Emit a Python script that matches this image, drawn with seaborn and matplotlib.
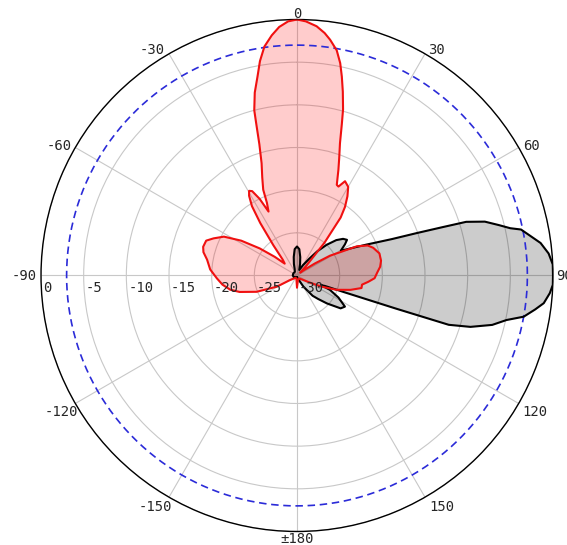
import numpy as np
import pandas as pd
import matplotlib
matplotlib.use('Agg')
import matplotlib.pyplot as plt
import seaborn as sns

# red pattern: angle [deg, clockwise from top], level [dB]
red_deg = [-180, -170, -150, -135, -123, -119, -112, -106, -102, -97, -92, -86, -80, -76,
           -73, -69, -66, -62, -58, -54, -50, -46, -42, -38, -35, -33, -31, -29.5, -28,
           -26, -24, -22.5, -21.5, -19.5, -17.5, -16, -15, -14.5, -13, -11.2, -9.8, -8.1,
           -6, -4.1, -2, 0, 2, 4.5, 6.5, 8, 10, 11.5, 12.7, 14, 15.5, 16.5, 18, 19.8, 21.4,
           23.7, 25, 27, 30, 32.5, 35, 37, 40, 44, 48, 52, 56, 59, 62, 64, 67, 70, 75, 80,
           84, 88, 92, 95, 98, 101, 105, 110, 115, 120, 130, 150, 170, 180]
red_db = [-28.6, -29.6, -29.7, -29.5, -29, -27.3, -24.9, -23, -22, -21.2, -20.6, -19.8, -19.3, -18.7,
          -18.5, -18.6, -19.3, -20.3, -22.3, -24.6, -26.6, -28, -27.5, -25.5, -22.5, -20.3, -19.1, -18.6, -18.8,
          -20, -21.8, -20.8, -19.2, -17.8, -16.2, -14, -11.5, -10, -8, -6.2, -4.5, -2.9,
          -1.7, -0.8, -0.2, 0, -0.2, -0.7, -1.4, -2.1, -3.2, -4.6, -6.1, -7.8, -9.8, -11.5, -13.7, -15.4, -16.7,
          -18.4, -18.5, -17.6, -18, -19, -20.2, -21.5, -25, -28.5, -29.5, -29, -27.5, -25.5, -24, -22.2, -21, -20.5, -20, -20,
          -20.2, -20.6, -20.9, -21.6, -22.3, -22.3, -23.5, -25.1, -27, -28.5, -29.3, -29.6, -29.4, -28.6]

# black pattern
black_deg = [-180, -150, -120, -90, -60, -30, -20, -15, -10, -5, 0, 5, 10, 15, 22, 30, 36, 40,
             44, 48, 51.5, 54.5, 57, 60.5, 66, 69, 70.5, 71.6, 72.4, 74, 76, 77.5, 78.4, 80.5,
             82.4, 85, 87.5, 90, 92.1, 94, 96.4, 98.1, 100.3, 102, 104.2, 106.5, 108, 108.5,
             109.5, 110.5, 112, 113.5, 118, 123, 127, 133, 138, 142.4, 150, 160, 180]
black_db = [-29.8, -29.8, -29.6, -29.5, -29.5, -29.5, -29.2, -28.6, -27.8, -26.9, -26.6, -26.9, -27.8, -28.6, -29.3, -28.6, -27.6, -26.3,
            -25, -23.8, -23.1, -22.8, -23.3, -24.1, -21.1, -18.1, -15.1, -12.1, -9.2, -7.1, -5.6, -4.4, -3.2, -2.2,
            -1.2, -0.4, 0, 0, 0, -0.3, -0.9, -1.8, -3, -4.9, -6.4, -8.8, -11.3, -17.8,
            -24.2, -26.5, -27, -25.8, -24.5, -23.3, -23.6, -25.2, -26.3, -27, -28.5, -29.5, -29.8]

ref_db = -3
r_ticks = [0, -5, -10, -15, -20, -25, -30]
theta_ticks = [0, 30, 60, 90, 120, 150, 180, 210, 240, 270, 300, 330]
theta_labels = ['0', '30', '60', '90', '120', '150', '±180',
                '-150', '-120', '-90', '-60', '-30']

# label placement (pixels) around the outer ring
label_offsets = {0: (0, 2, 'center'), 30: (3, 0, 'left'), 60: (4, -2, 'left'),
                 90: (3, -5, 'left'), 120: (4, -13, 'left'), 150: (4, -14, 'left'),
                 180: (0, -12, 'center'), 210: (3, -14, 'right'), 240: (3, -13, 'right'),
                 270: (-4, -5, 'right'), 300: (-4, -2, 'right'), 330: (-4, 0, 'right')}

sns.set_style('white')
plt.rcParams['font.family'] = ['DejaVu Sans Mono', 'DejaVu Sans']

red = pd.DataFrame({'theta': np.deg2rad(red_deg), 'db': red_db})
black = pd.DataFrame({'theta': np.deg2rad(black_deg), 'db': black_db})

fig = plt.figure(figsize=(5.67, 5.45), dpi=100)
ax = fig.add_axes([0.0723, 0.0248, 0.903, 0.9394], projection='polar')
ax.set_theta_zero_location('N')
ax.set_theta_direction(-1)

ax.fill(red['theta'], red['db'], color='red', alpha=0.2, lw=0, zorder=2)
ax.fill(black['theta'], black['db'], color='black', alpha=0.2, lw=0, zorder=2)

circ = np.linspace(0, 2 * np.pi, 361)
ax.plot(circ, np.full_like(circ, ref_db), color='#2b2bd8', lw=1.2, ls=(0, (4.5, 2.8)), zorder=3)

sns.lineplot(data=black, x='theta', y='db', sort=False, estimator=None,
             color='black', lw=1.5, ax=ax, zorder=4)
sns.lineplot(data=red, x='theta', y='db', sort=False, estimator=None,
             color='#f01010', lw=1.5, ax=ax, zorder=5)

ax.set_rlim(-30, 0)
ax.set_yticks(r_ticks)
ax.set_yticklabels([])
ax.set_xticks(np.deg2rad(theta_ticks))
ax.set_xticklabels([])
ax.grid(color='#c8c8c8', lw=0.8)
ax.spines['polar'].set_color('black')
ax.spines['polar'].set_linewidth(1.0)
ax.set_xlabel('')
ax.set_ylabel('')

for t, lab in zip(theta_ticks, theta_labels):
    dx, dy, ha = label_offsets[t]
    ax.annotate(lab, xy=(np.deg2rad(t), 0), xytext=(dx, dy), textcoords='offset pixels',
                ha=ha, va='baseline', fontsize=10, annotation_clip=False, zorder=6)

for r in r_ticks:
    ax.annotate(str(r), xy=(np.deg2rad(270), r), xytext=(2, -6),
                textcoords='offset pixels', ha='left', va='top', fontsize=10, zorder=6)

fig.savefig('out.png', dpi=100)
